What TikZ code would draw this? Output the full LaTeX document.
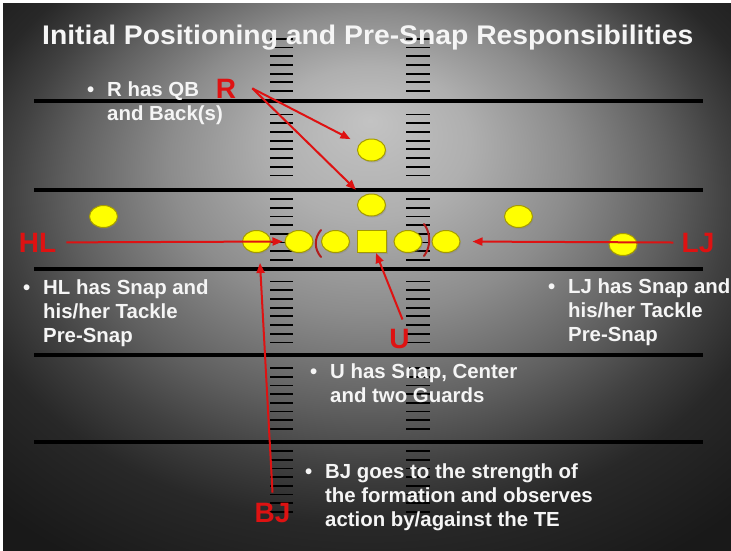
\documentclass[tikz,border=0pt]{standalone}
\usepackage{fontspec}
\setmainfont{Liberation Sans}
\usetikzlibrary{arrows.meta,shapes.geometric,shadows}

\definecolor{callred}{RGB}{222,18,18}
\definecolor{bracketred}{RGB}{178,28,28}
\definecolor{playerfill}{RGB}{255,255,0}
\definecolor{playeredge}{RGB}{165,155,0}

% soft grey glow behind the field, darkening towards the edges
\pgfdeclareradialshading{fieldglow}{\pgfpoint{0.2bp}{14.3bp}}{%
  rgb(0bp)=(0.765,0.765,0.765);
  rgb(6.9bp)=(0.686,0.686,0.686);
  rgb(13.7bp)=(0.55,0.55,0.55);
  rgb(20.6bp)=(0.373,0.373,0.373);
  rgb(24.7bp)=(0.255,0.255,0.255);
  rgb(28.8bp)=(0.157,0.157,0.157);
  rgb(35.7bp)=(0.1,0.1,0.1);
  rgb(50bp)=(0.08,0.08,0.08)}

% a bullet item: bullet hanging 20pt left of the text
\newcommand{\bulletblock}[1]{%
  \begin{minipage}[t]{320pt}\raggedright\leftskip=20pt\relax
  \noindent\llap{\makebox[20pt][l]{\textbullet}}#1\end{minipage}}

\tikzset{
  yardline/.style={line width=4pt, black},
  hashmark/.style={line width=1.8pt, black},
  player/.style={ellipse, draw=playeredge, fill=playerfill, line width=1pt,
    minimum width=28pt, minimum height=22pt, inner sep=0pt,
    drop shadow={shadow xshift=1pt, shadow yshift=-1.5pt, opacity=0.35}},
  centreplayer/.style={rectangle, draw=playeredge, fill=playerfill, line width=1pt,
    minimum width=29pt, minimum height=22pt, inner sep=0pt,
    drop shadow={shadow xshift=1pt, shadow yshift=-1.5pt, opacity=0.35}},
  calltext/.style={anchor=base, inner sep=0pt, text=callred,
    font=\fontsize{28}{30}\selectfont\bfseries},
  callarrow/.style={draw=callred, line width=2pt,
    -{Triangle[length=10pt,width=8pt]}},
  bracketmark/.style={draw=bracketred, line width=2pt, line cap=round},
  bodytext/.style={anchor=base west, inner sep=0pt, text=white!96!black,
    font=\fontsize{20.4}{24}\selectfont\bfseries},
}

\begin{document}
\begin{tikzpicture}[x=1pt, y=-1pt]
\useasboundingbox (0,0) rectangle (731,550);
\fill[white] (0,0) rectangle (731,550);
\shade[shading=fieldglow] (3,3) rectangle (731,550);

% hash marks, eight to each five-yard band
\foreach \s/\n in {38.8/7, 114.5/8, 199/8, 281.5/8, 368/8, 451/8} {
  \foreach \k in {1,...,\n} {
    \pgfmathsetmacro{\yy}{\s+(\k-1)*8.7}
    \draw[hashmark] (270,\yy) -- (293,\yy);
    \draw[hashmark] (406,\yy) -- (430,\yy);
  }
}

% yard lines
\foreach \y in {101,190,269,355,442}
  \draw[yardline] (34,\y) -- (703,\y);

% title
\node[anchor=base west, inner sep=0pt, text=white!96!black] (title) at (42,44)
  {\resizebox{651pt}{19.5pt}{\bfseries Initial Positioning and Pre-Snap Responsibilities}};

% offense
\node[player] (qb) at (371.5,150) {};
\node[player] (rb) at (371.5,205) {};
\node[player] (wl) at (103.5,216.5) {};
\node[player] (sl) at (518.5,216.5) {};
\node[player] (wr) at (623,244.5) {};
\node[player] (te) at (256.5,241.5) {};
\node[player] (lt) at (299,241.5) {};
\node[player] (lg) at (335.5,241.5) {};
\node[centreplayer] (ce) at (372,241.5) {};
\node[player] (rg) at (408,241.5) {};
\node[player] (rt) at (446,241.5) {};

% brackets around the centre and guards
\draw[bracketmark] (321,230) .. controls (314,238) and (314,249) .. (321,257);
\draw[bracketmark] (424,224) .. controls (431,233) and (431,247) .. (424,256);

% officials
\node[calltext] (R)  at (226,98)   {R};
\node[calltext] (HL) at (37.5,252) {HL};
\node[calltext] (LJ) at (698,252)  {LJ};
\node[calltext] (U)  at (399.5,348) {U};
\node[calltext] (BJ) at (272.5,522) {BJ};

% responsibilities
\draw[callarrow, shorten >=10pt] ([xshift=16pt]R.east) -- (qb);
\draw[callarrow, shorten >=9pt]  ([xshift=16pt]R.east) -- (rb);
\draw[callarrow, shorten >=2pt]  ([xshift=10pt]HL.east) -- (lt.west);
\draw[callarrow, shorten >=12pt] ([xshift=-8pt]LJ.west) -- (rt.east);
\draw[callarrow] ([xshift=3pt,yshift=9pt]U.north) -- ([xshift=4pt]ce.south);
\draw[callarrow] ([yshift=10pt]BJ.north) -- ([xshift=3.5pt,yshift=-10pt]te.south);

% notes
\node[bodytext] (rnote)  at (87,96)  {\bulletblock{R has QB\\and Back(s)}};
\node[bodytext] (hlnote) at (23,294) {\bulletblock{HL has Snap and\\his/her Tackle\\Pre-Snap}};
\node[bodytext] (ljnote) at (548,293) {\bulletblock{LJ has Snap and\\his/her Tackle\\Pre-Snap}};
\node[bodytext] (unote)  at (310,378) {\bulletblock{U has Snap, Center\\and two Guards}};
\node[bodytext] (bjnote) at (305,478) {\bulletblock{BJ goes to the strength of\\the formation and observes\\action by/against the TE}};
\end{tikzpicture}
\end{document}
